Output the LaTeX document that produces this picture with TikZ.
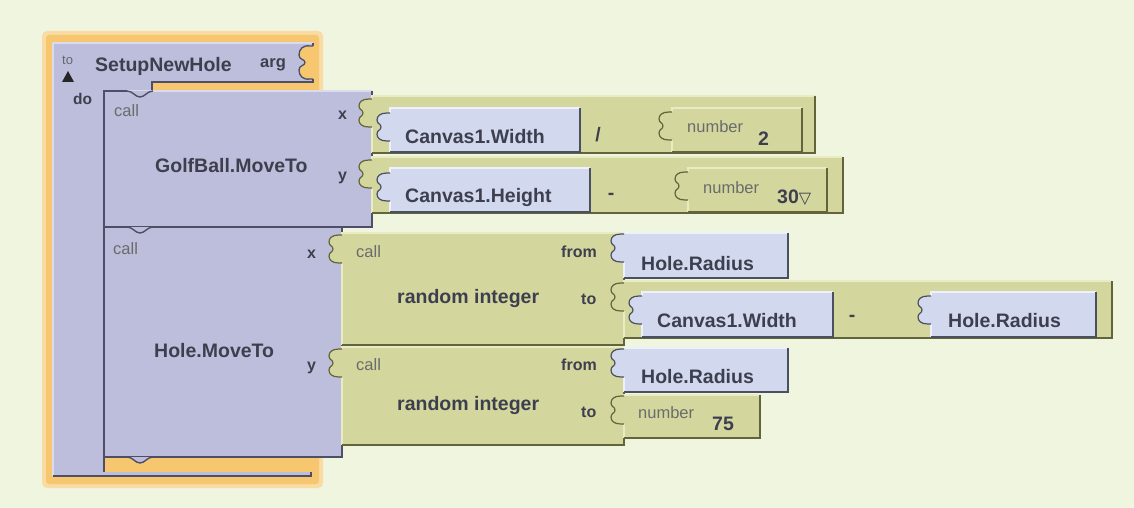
\documentclass[tikz,border=0pt]{standalone}
\usepackage{fontspec}
\setmainfont{Liberation Sans}
\newfontfamily\dejavu{DejaVu Sans}
\definecolor{bg}{HTML}{EFF5DF}
\definecolor{glow}{HTML}{F6C76E}
\definecolor{glowedge}{HTML}{F9DCA4}
\definecolor{lav}{HTML}{BDBEDB}
\definecolor{lavdark}{HTML}{4E4F66}
\definecolor{lavlight}{HTML}{DADBEE}
\definecolor{oli}{HTML}{D4D79D}
\definecolor{olidark}{HTML}{62643A}
\definecolor{olilight}{HTML}{E9EBC4}
\definecolor{val}{HTML}{D2D9EE}
\definecolor{valdark}{HTML}{4B5060}
\definecolor{vallight}{HTML}{EEF1FB}
\definecolor{txt}{HTML}{3E3F4E}
\definecolor{smalltxt}{HTML}{6B6B6B}
% output tab (puzzle piece) on the left edge, drawn upward from (x,t+28) to (x,t)
\newcommand\tabup[2]{-- ({#1-3},{#2+28}) .. controls ({#1-10},{#2+28}) and ({#1-13},{#2+25}) .. ({#1-13},{#2+21}) .. controls ({#1-13},{#2+17}) and ({#1-9},{#2+17.5}) .. ({#1-9},{#2+14}) .. controls ({#1-9},{#2+10.5}) and ({#1-13},{#2+11}) .. ({#1-13},{#2+7}) .. controls ({#1-13},{#2+3}) and ({#1-10},{#2}) .. ({#1-3},{#2}) -- (#1,#2)}
% value block: x1 y1 x2 y2 tabtop fill dark light
\newcommand\valblock[8]{%
  \fill[#6] (#1,#2) -- (#3,#2) -- (#3,#4) -- (#1,#4) -- (#1,{#5+28}) \tabup{#1}{#5} -- cycle;
  \draw[#8,line width=1.2] (#1,#4) -- (#1,{#5+28});
  \draw[#8,line width=1.2] (#1,#5) -- (#1,#2) -- (#3,#2);
  \draw[#7,line width=1.2] (#1,{#5+28}) \tabup{#1}{#5};
  \draw[#7,line width=1.8] (#3,#2) -- (#3,#4) -- (#1,#4);
}
% statement block: x1 y1 x2 y2
\newcommand\stmtblock[4]{%
  \fill[lav] (#1,#2) rectangle (#3,#4);
  \draw[lavlight,line width=1.2] (#1,#4) -- (#1,#2) -- (#3,#2);
  \draw[lavdark,line width=1.8] (#3,#2) -- (#3,#4) -- (#1,#4);
}
% statement tab hanging below y
\newcommand\vtab[1]{\filldraw[fill=lav,draw=lavdark,line width=1.4] (127,#1) .. controls (133,#1) and (135,{#1+6}) .. (140,{#1+6}) .. controls (145,{#1+6}) and (147,#1) .. (153,#1);}
\tikzset{
  big/.style={font=\fontsize{19.5}{22}\selectfont\bfseries, text=txt, anchor=base west, inner sep=0pt},
  lbl/.style={font=\fontsize{16}{18}\selectfont\bfseries, text=txt, anchor=base west, inner sep=0pt},
  small/.style={font=\fontsize{16.5}{18}\selectfont, text=smalltxt, anchor=base west, inner sep=0pt},
}
\begin{document}
\begin{tikzpicture}[x=1pt,y=-1pt]
\useasboundingbox (0,0) rectangle (1134,508);
\fill[bg] (0,0) rectangle (1134,508);
% glow of the selected procedure
\fill[glowedge, rounded corners=5] (42,31) rectangle (323,488);
\fill[glow, rounded corners=3] (46,35) rectangle (319,484);
% procedure block
\fill[lav] (53,43) -- (313,43) -- (313,82) -- (152,82) -- (152,91) -- (104,91) -- (104,472) -- (311,472) -- (311,476) -- (53,476) -- cycle;
\draw[lavlight,line width=1.2] (53,476) -- (53,43) -- (313,43);
\draw[lavdark,line width=1.8] (313,43) -- (313,82) -- (152,82) -- (152,91);
\draw[lavdark,line width=1.8] (311,472) -- (311,476) -- (53,476);
% arg socket
\fill[glow] (314,46) -- (310,46) .. controls (303,45) and (299,49) .. (299,55) .. controls (299,60) and (305,59) .. (305,62.5) .. controls (305,66) and (299,65) .. (299,70) .. controls (299,76) and (303,80) .. (310,79) -- (314,79) -- cycle;
\draw[lavdark,line width=1.3] (313,46) -- (310,46) .. controls (303,45) and (299,49) .. (299,55) .. controls (299,60) and (305,59) .. (305,62.5) .. controls (305,66) and (299,65) .. (299,70) .. controls (299,76) and (303,80) .. (310,79) -- (313,79);
\fill[black!85] (62,82) -- (74,82) -- (68,71) -- cycle;
\node[small, font=\fontsize{13}{14}\selectfont, text=txt!80] (nto) at (62,65) {to};
\node[big] (nsetup) at (95,72) {SetupNewHole};
\node[lbl, font=\fontsize{16.5}{18}\selectfont\bfseries] (narg) at (260,68) {arg};
\node[lbl, font=\fontsize{15.5}{18}\selectfont\bfseries] (ndo) at (73,105) {do};
% statement blocks
\stmtblock{104}{227}{342}{457}
\stmtblock{104}{91}{372}{227}
\vtab{227}
\vtab{457}
\vtab{91}
\draw[lavdark,line width=1.4] (104,472) -- (104,91) -- (127,91);
% GolfBall.MoveTo texts
\node[small] (ncall1) at (114,117) {call};
\node[big] (ngolf) at (155,172) {GolfBall.MoveTo};
\node[lbl] (nx1) at (338,120) {x};
\node[lbl] (ny1) at (338,180) {y};
% x expression
\valblock{372}{96}{815}{153}{99}{oli}{olidark}{olilight}
\valblock{390}{108}{580}{152}{113}{val}{valdark}{vallight}
\valblock{672}{108}{802}{152}{112}{oli}{olidark}{olilight}
\node[big] (ncw1) at (405,143) {Canvas1.Width};
\node[big, anchor=base] (ndiv) at (598,141) {/};
\node[small] (nnum1) at (687,132) {number};
\node[big] (n2) at (758,145) {2};
% y expression
\valblock{372}{157}{843}{213}{160}{oli}{olidark}{olilight}
\valblock{390}{168}{590}{212}{173}{val}{valdark}{vallight}
\valblock{688}{168}{827}{212}{172}{oli}{olidark}{olilight}
\node[big] (nch1) at (405,202) {Canvas1.Height};
\node[big, anchor=base] (nminus1) at (611,199) {-};
\node[small] (nnum2) at (703,193) {number};
\node[big] (n30) at (777,203) {30{\dejavu\fontsize{16}{16}\selectfont\mdseries ▽}};
% Hole.MoveTo texts
\node[small] (ncall2) at (113,254) {call};
\node[big] (nhole) at (154,357) {Hole.MoveTo};
\node[lbl] (nx2) at (307,258) {x};
\node[lbl] (ny2) at (307,370) {y};
% random integer 1
\valblock{342}{233}{624}{345}{235}{oli}{olidark}{olilight}
\valblock{624}{233}{788}{278}{234}{val}{valdark}{vallight}
\valblock{624}{281}{1112}{338}{283}{oli}{olidark}{olilight}
\valblock{642}{292}{833}{337}{296}{val}{valdark}{vallight}
\valblock{931}{292}{1096}{337}{296}{val}{valdark}{vallight}
\node[small] (ncall3) at (356,257) {call};
\node[lbl] (nfrom1) at (561,257) {from};
\node[big] (nri1) at (397,303) {random integer};
\node[lbl] (nto1) at (581,304) {to};
\node[big] (nhr1) at (641,270) {Hole.Radius};
\node[big] (ncw2) at (657,327) {Canvas1.Width};
\node[big, anchor=base] (nminus2) at (852,321) {-};
\node[big] (nhr2) at (948,327) {Hole.Radius};
% random integer 2
\valblock{342}{347}{624}{445}{349}{oli}{olidark}{olilight}
\valblock{624}{348}{788}{392}{349}{val}{valdark}{vallight}
\valblock{624}{395}{760}{438}{396}{oli}{olidark}{olilight}
\node[small] (ncall4) at (356,370) {call};
\node[lbl] (nfrom2) at (561,370) {from};
\node[big] (nri2) at (397,410) {random integer};
\node[lbl] (nto2) at (581,417) {to};
\node[big] (nhr3) at (641,383) {Hole.Radius};
\node[small] (nnum3) at (638,418) {number};
\node[big] (n75) at (712,430) {75};
\end{tikzpicture}
\end{document}
